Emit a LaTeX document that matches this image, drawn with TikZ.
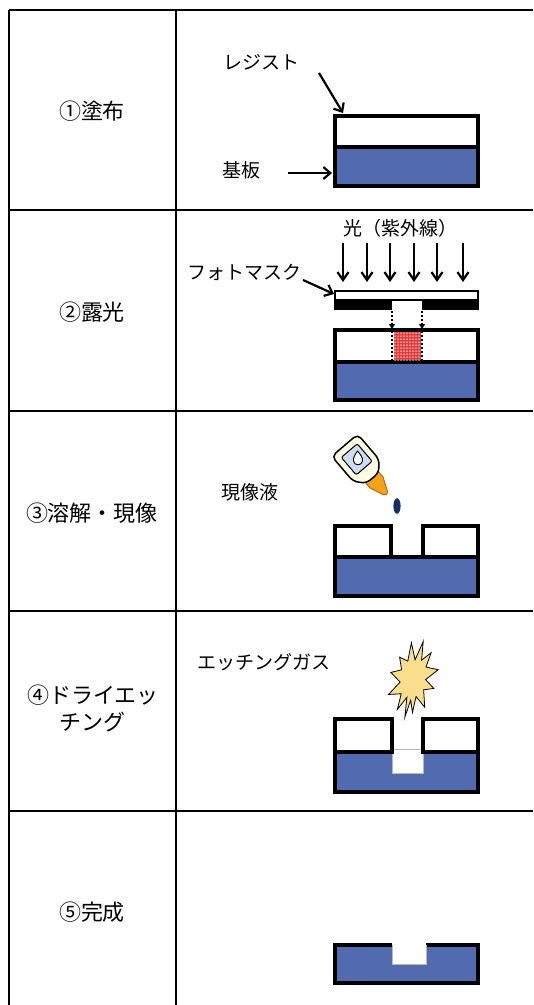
\documentclass[tikz,border=0pt]{standalone}
\usepackage{fontspec}
\newfontfamily\jp{Noto Sans CJK JP}
\usetikzlibrary{arrows.meta}

\definecolor{subblue}{HTML}{516BAE}
\definecolor{dotred}{HTML}{E23B3B}
\definecolor{burstfill}{HTML}{F9DF8C}
\definecolor{cream}{HTML}{FFFCE6}
\definecolor{tagblue}{HTML}{CCDDF4}
\definecolor{nozzle}{HTML}{F4A21E}
\definecolor{nozzleedge}{HTML}{B86A08}
\definecolor{dropblue}{HTML}{112E68}
\definecolor{edgegray}{HTML}{B8B8B8}

\begin{document}
\begin{tikzpicture}[x=1pt,y=-1pt,
  gridline/.style={line width=1.5pt},
  divider/.style={line width=2.4pt},
  layer/.style={line width=3.2pt,line join=miter},
  lbl/.style={font=\jp\fontsize{19}{22}\selectfont,inner sep=0pt,anchor=west},
  steplbl/.style={font=\jp\fontsize{22}{27}\selectfont,inner sep=0pt,align=center},
  ptr/.style={line width=2.2pt,-{Straight Barb[length=7pt,width=12pt,line width=2.2pt]}},
  ray/.style={line width=2.2pt,-{Straight Barb[length=8pt,width=11pt,line width=2.2pt]}},
  dotptr/.style={line width=2.4pt,dash pattern=on 2pt off 2pt,-{Triangle[length=5pt,width=6pt]}},
]
\useasboundingbox (0,0) rectangle (534,1005);

% ---------- table grid ----------
\foreach \y in {10,210,411,611,811}
  \draw[gridline] (9,\y) -- (533,\y);
\draw[gridline] (9,10) -- (9,1005);
\draw[divider] (176,10) -- (176,1005);

% ---------- step names ----------
\node[steplbl] (s1) at (92,111) {①塗布};
\node[steplbl] (s2) at (92,312) {②露光};
\node[steplbl] (s3) at (92,513) {③溶解・現像};
\node[steplbl] (s4) at (93,708) {④ドライエッ\\チング};
\node[steplbl] (s5) at (92,912) {⑤完成};

% ---------- 1: coating ----------
\draw[layer,fill=white] (335,116) rectangle (478,147);
\draw[layer,fill=subblue] (335,147) rectangle (478,186);
\node[lbl] (resist) at (223,62) {レジスト};
\node[lbl] (substrate) at (222,170) {基板};
\coordinate (resistTail) at (319,73);
\coordinate (resistTip) at (343,113);
\coordinate (substrateTail) at (288,173);
\coordinate (substrateTip) at (332,173);
\draw[ptr] (resistTail) -- (resistTip);
\draw[ptr] (substrateTail) -- (substrateTip);

% ---------- 2: exposure ----------
\node[lbl,anchor=center] (uv) at (400,228) {光（紫外線）};
\foreach \x [count=\i] in {343,367,390,414,437,463}{
  \coordinate (rayTop\i) at (\x,243);
  \coordinate (rayEnd\i) at (\x,282);
  \draw[ray] (rayTop\i) -- (rayEnd\i);
}
% photomask: clear plate with opaque bars
\draw[line width=2.4pt,fill=white] (335,291) rectangle (478,300);
\fill (333.8,299) rectangle (392,309.5);
\fill (422,299) rectangle (479.2,309.5);
\node[lbl] (mask) at (187,272) {フォトマスク};
\coordinate (maskTail) at (303,280);
\coordinate (maskTip) at (334,294);
\draw[ptr] (maskTail) -- (maskTip);
% resist and substrate with exposed area
\draw[layer,fill=subblue] (335,362) rectangle (478,400);
\fill[white] (335,330) rectangle (478,362);
\draw[layer] (335,330) rectangle (478,362);
\fill[dotred] (393.5,332) rectangle (420.5,360.3);
\foreach \i in {0,...,8}
  \foreach \j in {0,...,9}
    \fill[white] ({395+\i*3},{333+\j*3}) circle (0.75);
\draw[line width=2.6pt,dash pattern=on 2pt off 2pt] (392,331) -- (392,362);
\draw[line width=2.6pt,dash pattern=on 2pt off 2pt] (422,331) -- (422,362);
\coordinate (openL) at (392,311);
\coordinate (openR) at (422,311);
\coordinate (hitL) at (392,329);
\coordinate (hitR) at (422,329);
\draw[dotptr] (openL) -- (hitL);
\draw[dotptr] (openR) -- (hitR);

% ---------- 3: development ----------
\draw[layer,fill=subblue] (335,557) rectangle (478,596);
\draw[layer,fill=white] (335,526) rectangle (391,557);
\draw[layer,fill=white] (423,526) rectangle (478,557);
\node[lbl] (developer) at (221,492) {現像液};
\fill[dropblue] (397,506) ellipse [x radius=3.6,y radius=7.8];
% developer bottle
\begin{scope}[shift={(359,462)},rotate=-49.5]
  \draw[line width=1pt,draw=nozzleedge,fill=nozzle,line join=round]
    (20,-8.5) -- (27,-8.5) -- (41,-2.5) -- (42.5,0) -- (41,2.5) -- (27,8.5) -- (20,8.5) -- cycle;
  \draw[line width=1.5pt,fill=cream,rounded corners=5pt]
    (-22,-17) -- (11,-17) -- (21,-8) -- (21,8) -- (11,17) -- (-22,17) -- cycle;
  \draw[line width=1pt,fill=tagblue,rounded corners=2pt] (-15,-10.5) rectangle (8,10.5);
\end{scope}
\draw[line width=0.9pt,fill=white]
  (357.5,451) .. controls (360.5,454.5) and (363,457.5) .. (362.5,461)
  .. controls (362,466) and (354,466) .. (353.5,461)
  .. controls (353,457.5) and (355,454.5) .. cycle;

% ---------- 4: dry etching ----------
\node[lbl] (gas) at (197,662) {エッチングガス};
\begin{scope}[shift={(413,679)},rotate=-12,xscale=25,yscale=39]
  \draw[line width=0.8pt,fill=burstfill,line join=miter]
    (90:1.0) foreach \a/\r in {100/0.5,113/0.92,128/0.55,148/0.98,163/0.5,183/0.92,198/0.55,
      214/0.85,230/0.55,248/0.97,261/0.5,275/1.0,289/0.55,303/0.9,318/0.55,338/0.98,
      354/0.5,8/0.9,23/0.55,43/0.95,58/0.5,73/0.88,81/0.55} { -- (\a:\r) } -- cycle;
\end{scope}
\draw[layer,fill=subblue] (335,752) rectangle (478,792);
\draw[line width=0.6pt,draw=edgegray,fill=white] (392,749.5) rectangle (423,773);
\draw[layer,fill=white] (335,719) rectangle (392,752);
\draw[layer,fill=white] (423,719) rectangle (478,752);

% ---------- 5: finished ----------
\fill[subblue] (335,945) -- (392,945) -- (392,964) -- (426,964) -- (426,945)
  -- (478,945) -- (478,983) -- (335,983) -- cycle;
\draw[layer] (392,945) -- (335,945) -- (335,983) -- (478,983) -- (478,945) -- (426,945);
\draw[line width=0.6pt,draw=edgegray] (392,945) -- (392,964) -- (426,964) -- (426,945);
\end{tikzpicture}
\end{document}
